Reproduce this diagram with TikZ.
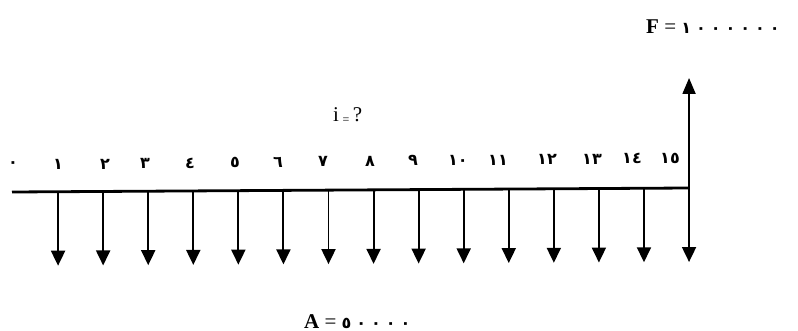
\documentclass[tikz,border=0pt]{standalone}
\usepackage{fontspec}
\setmainfont{Liberation Serif}
\newfontfamily\arabicfont[Script=Arabic]{DejaVu Sans}
\usetikzlibrary{arrows.meta,calc}
\newcommand\dz{\hspace{5pt}٠}
\begin{document}
\begin{tikzpicture}[x=1pt,y=-1pt,
  axisline/.style={line width=2.8pt},
  flow/.style={line width=1.9pt,-{Triangle[width=14pt,length=15pt]}},
  num/.style={font=\arabicfont\bfseries\fontsize{16}{18}\selectfont, inner sep=0pt},
  lbl/.style={font=\fontsize{21}{24}\selectfont, inner sep=0pt, anchor=base west}]
\useasboundingbox (0,0) rectangle (798,331);
% line ends
\coordinate (s) at (12,192);
\foreach \k in {1,...,15}{
  \pgfmathsetmacro\xx{13+45.07*\k}
  \pgfmathsetmacro\yy{192-0.0059*(\xx-12)}
  \coordinate (t\k) at (\xx,\yy);
  \coordinate (d\k) at (\xx,\yy+74);
}
\coordinate (u) at ($(t15)+(0,-110)$);
\draw[axisline] (s) -- (t15);
\foreach \k in {1,...,15}{ \draw[flow] (t\k) -- (d\k); }
\draw[line width=1.9pt,-{Triangle[width=13pt,length=16pt]}] (t15) -- (u);
% labels
\foreach \k/\lx/\txt in {0/13/٠,1/58/١,2/105/٢,3/145/٣,4/190/٤,5/235/٥,6/278/٦,7/323/٧,8/370/٨,9/413/٩,10/458/١٠,11/498/١١,12/547/١٢,13/592/١٣,14/632/١٤,15/670/١٥}{
  \pgfmathsetmacro\ly{165-0.0104*(\lx-13)}
  \node[num] (l\k) at (\lx,\ly) {\txt};
}
\node[lbl] (F) at (646,34) {\textbf{F} = {\arabicfont\bfseries\fontsize{16}{18}\selectfont ١\dz\dz\dz\dz\dz\dz}};
\node[lbl] (i) at (333,122) {i\,\raisebox{-2pt}{\fontsize{12}{12}\selectfont =}\,?};
\node[lbl] (A) at (304,328) {\textbf{A} = {\arabicfont\bfseries\fontsize{16}{18}\selectfont ٥\dz\dz\dz\dz}};
\end{tikzpicture}
\end{document}
